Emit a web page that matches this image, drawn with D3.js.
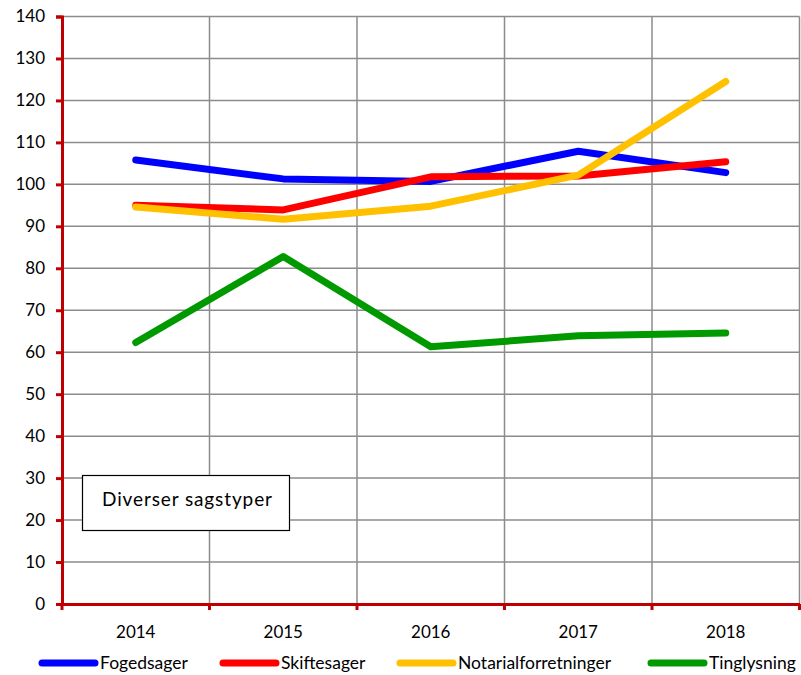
<!DOCTYPE html>
<html>
<head>
<meta charset="utf-8">
<script src="https://cdn.jsdelivr.net/npm/d3@7"></script>
<style>
  body { margin: 0; background: #fff; }
  svg text { font-family: Lato, "Open Sans", sans-serif; fill: #000; }
</style>
</head>
<body>
<svg width="801" height="675"></svg>
<script>
// data
var years = ["2014", "2015", "2016", "2017", "2018"];
var fogedsager = [105.8, 101.3, 100.7, 107.9, 102.8];
var skiftesager = [95.0, 93.9, 101.8, 102.0, 105.4];
var notarialforretninger = [94.6, 91.7, 94.8, 102.2, 124.5];
var tinglysning = [62.3, 82.8, 61.3, 63.9, 64.6];
var seriesNames = ["Fogedsager", "Skiftesager", "Notarialforretninger", "Tinglysning"];
var seriesColors = ["#0000ff", "#ff0000", "#ffc000", "#009900"];
var yTicks = [0, 10, 20, 30, 40, 50, 60, 70, 80, 90, 100, 110, 120, 130, 140];

(function () {
    var series = [fogedsager, skiftesager, notarialforretninger, tinglysning];

    var svg = d3.select("svg");
    var plotLeft = 62, plotRight = 799.5, plotTop = 16.5, plotBottom = 604;

    var x = d3.scaleBand().domain(years).range([plotLeft, plotRight]);
    var y = d3.scaleLinear().domain([0, 140]).range([plotBottom, plotTop]);

    // grid
    var grid = svg.append("g").attr("class", "grid");
    grid.selectAll("line.h")
        .data(yTicks.filter(function(d) { return d > 0; }))
        .enter().append("line")
        .attr("x1", plotLeft).attr("x2", plotRight)
        .attr("y1", function(d) { return y(d); })
        .attr("y2", function(d) { return y(d); })
        .attr("stroke", "#8c8c8c").attr("stroke-width", 1.5);
    grid.selectAll("line.v")
        .data(years)
        .enter().append("line")
        .attr("x1", function(d) { return x(d) + x.bandwidth(); })
        .attr("x2", function(d) { return x(d) + x.bandwidth(); })
        .attr("y1", plotTop).attr("y2", plotBottom)
        .attr("stroke", "#8c8c8c").attr("stroke-width", 1.5);

    // axes
    var yAxis = svg.append("g")
        .attr("transform", "translate(" + plotLeft + ",0)")
        .call(d3.axisLeft(y).tickValues(yTicks).tickSize(6).tickPadding(11));
    yAxis.select(".domain").attr("stroke", "#c00000").attr("stroke-width", 3);
    yAxis.selectAll(".tick line").attr("stroke", "#c00000").attr("stroke-width", 3);
    yAxis.selectAll(".tick text").style("font-size", "17px").attr("fill", "#000");

    var xAxis = svg.append("g")
        .attr("transform", "translate(0," + plotBottom + ")")
        .call(d3.axisBottom(x).tickSize(0).tickPadding(22));
    xAxis.select(".domain").attr("stroke", "#c00000").attr("stroke-width", 3);
    xAxis.selectAll(".tick text").style("font-size", "17px").attr("fill", "#000");
    xAxis.selectAll("line.cat")
        .data([plotLeft].concat(years.map(function(d) { return x(d) + x.bandwidth(); })))
        .enter().append("line")
        .attr("x1", function(d) { return d; }).attr("x2", function(d) { return d; })
        .attr("y1", 0).attr("y2", 6)
        .attr("stroke", "#c00000").attr("stroke-width", 3);

    // lines
    var line = d3.line()
        .x(function(d, i) { return x(years[i]) + x.bandwidth() / 2; })
        .y(function(d) { return y(d); });

    svg.append("g").selectAll("path")
        .data(series)
        .enter().append("path")
        .attr("d", line)
        .attr("fill", "none")
        .attr("stroke", function(d, i) { return seriesColors[i]; })
        .attr("stroke-width", 7)
        .attr("stroke-linecap", "round")
        .attr("stroke-linejoin", "round");

    // label box
    svg.append("rect")
        .attr("x", 82.5).attr("y", 475.5).attr("width", 207).attr("height", 55)
        .attr("fill", "#fff").attr("stroke", "#000").attr("stroke-width", 1.2);
    svg.append("text")
        .attr("x", 102).attr("y", 506)
        .style("font-size", "19px")
        .attr("textLength", 170)
        .text("Diverser sagstyper");

    // legend
    var legendX = [42, 223, 400, 651];
    var legend = svg.append("g").selectAll("g")
        .data(seriesNames)
        .enter().append("g")
        .attr("transform", function(d, i) { return "translate(" + legendX[i] + ",663)"; });
    legend.append("line")
        .attr("x1", 0).attr("x2", 53).attr("y1", 0).attr("y2", 0)
        .attr("stroke", function(d, i) { return seriesColors[i]; })
        .attr("stroke-width", 7)
        .attr("stroke-linecap", "round");
    legend.append("text")
        .attr("x", 58).attr("y", 0).attr("dy", "0.35em")
        .style("font-size", "17.5px")
        .text(function(d) { return d; });
})();
</script>
</body>
</html>
